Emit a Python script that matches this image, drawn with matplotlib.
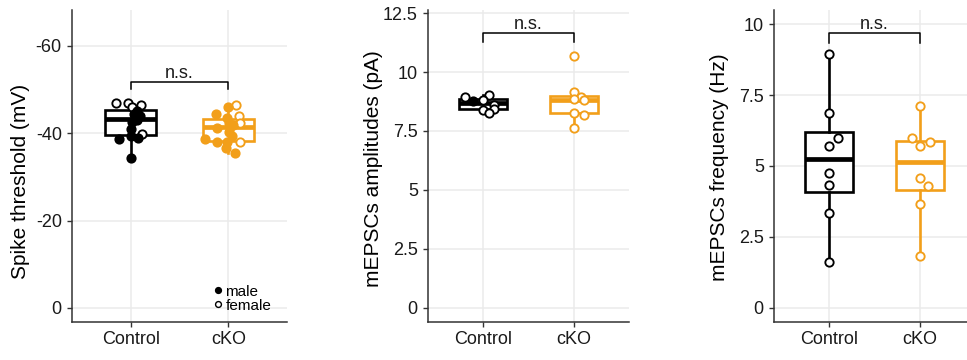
import matplotlib
matplotlib.use('Agg')
import matplotlib.pyplot as plt
from matplotlib.lines import Line2D

plt.rcParams['font.family'] = ['Liberation Sans', 'DejaVu Sans']
plt.rcParams['axes.unicode_minus'] = False

# ---------------- data ----------------
groups = ['Control', 'cKO']
group_colors = ['#000000', '#F29F1A']

# Panel 1: spike threshold (mV)
thr_ctrl = [-46.9, -46.9, -46.4, -46.0, -45.0, -44.5, -44.0, -43.5, -43.0, -42.5,
            -41.0, -39.8, -39.3, -38.9, -38.6, -34.4]
thr_ctrl_male = [0, 0, 0, 0, 1, 1, 1, 1, 1, 1, 1, 0, 1, 1, 1, 1]
thr_ctrl_jit = [-0.15, -0.03, 0.11, 0.01, 0.07, 0.03, 0.10, 0.04, 0.07, 0.01,
                0.0, 0.12, 0.0, 0.08, -0.12, 0.0]

thr_cko = [-46.5, -46.0, -44.4, -44.0, -43.5, -42.3, -42.3, -41.8, -41.5, -41.3,
           -40.2, -39.3, -38.7, -38.1, -37.9, -37.9, -36.6, -35.4]
thr_cko_male = [0, 1, 1, 0, 1, 1, 0, 1, 1, 1, 1, 1, 1, 0, 1, 1, 1, 1]
thr_cko_jit = [0.08, 0.0, -0.13, 0.11, -0.01, 0.01, 0.12, 0.05, 0.02, -0.12,
               0.01, 0.04, -0.24, 0.12, -0.12, -0.01, -0.02, 0.07]

# Panel 2: mEPSC amplitudes (pA)
amp_ctrl = [9.02, 8.93, 8.82, 8.78, 8.60, 8.45, 8.40, 8.28]
amp_ctrl_male = [0, 0, 0, 1, 0, 0, 0, 0]
amp_ctrl_jit = [0.07, -0.20, 0.0, -0.11, 0.12, 0.12, 0.0, 0.07]

amp_cko = [10.69, 9.14, 8.95, 8.85, 8.80, 8.28, 8.18, 7.61]
amp_cko_male = [0, 0, 0, 0, 0, 0, 0, 0]
amp_cko_jit = [0.0, 0.0, 0.08, 0.0, 0.11, 0.0, 0.11, 0.0]

# Panel 3: mEPSC frequency (Hz)
freq_ctrl = [8.94, 6.88, 5.97, 5.70, 4.76, 4.32, 3.33, 1.60]
freq_ctrl_male = [0, 0, 0, 0, 0, 0, 0, 0]
freq_ctrl_jit = [0.0, 0.0, 0.10, 0.0, 0.0, 0.0, 0.0, 0.0]

freq_cko = [7.11, 5.97, 5.86, 5.70, 4.57, 4.30, 3.66, 1.83]
freq_cko_male = [0, 0, 0, 0, 0, 0, 0, 0]
freq_cko_jit = [0.0, -0.09, 0.11, 0.0, 0.0, 0.09, 0.0, 0.0]

thr_ticks = [0, -20, -40, -60]
thr_ticklabels = ['0', '-20', '-40', '-60']
amp_ticks = [0, 2.5, 5, 7.5, 10, 12.5]
amp_ticklabels = ['0', '2.5', '5', '7.5', '10', '12.5']
freq_ticks = [0, 2.5, 5, 7.5, 10]
freq_ticklabels = ['0', '2.5', '5', '7.5', '10']

sig_label = 'n.s.'
legend_labels = ['male', 'female']

# ---------------- figure ----------------
W, H = 967, 360
fig = plt.figure(figsize=(W / 100, H / 100), dpi=100)

def frac_rect(l, r, t, b):
    return [l / W, (H - b) / H, (r - l) / W, (b - t) / H]

ax1 = fig.add_axes(frac_rect(72, 287, 10, 322))
ax2 = fig.add_axes(frac_rect(428, 629, 10, 322))
ax3 = fig.add_axes(frac_rect(774, 975, 10, 322))

AX_COL = '#333333'


def draw_panel(ax, sets, ylabel, ticks, ticklabels, ylim, bracket_y, bracket_drop,
               label_x, label_y):
    for i, (vals, male, jit) in enumerate(sets):
        c = group_colors[i]
        ax.boxplot(vals, positions=[i + 1], widths=0.52, showfliers=False,
                   showcaps=False, patch_artist=True, whis=1.5, manage_ticks=False,
                   boxprops=dict(facecolor='white', edgecolor=c, linewidth=1.9),
                   medianprops=dict(color=c, linewidth=3.4, solid_capstyle='butt'),
                   whiskerprops=dict(color=c, linewidth=1.9),
                   zorder=2)
        for v, m, j in zip(vals, male, jit):
            ax.scatter(i + 1 + j, v, s=36, facecolor=c if m else 'white',
                       edgecolor=c, linewidth=1.35, zorder=3)

    ax.set_xlim(0.4, 2.6)
    ax.set_ylim(*ylim)
    ax.set_axisbelow(True)
    ax.grid(True, color='#EBEBEB', linewidth=1.1)
    for s in ['top', 'right']:
        ax.spines[s].set_visible(False)
    for s in ['left', 'bottom']:
        ax.spines[s].set_color(AX_COL)
        ax.spines[s].set_linewidth(1.1)
    ax.tick_params(axis='both', colors=AX_COL, length=3.3, width=1.0,
                   labelsize=13, labelcolor='#1a1a1a')
    ax.tick_params(axis='y', pad=4)
    ax.tick_params(axis='x', pad=3)
    ax.set_yticks(ticks)
    ax.set_yticklabels(ticklabels)
    ax.set_xticks([1, 2])
    ax.set_xticklabels(groups)

    # significance bracket
    ax.plot([1, 1, 2, 2],
            [bracket_y - bracket_drop, bracket_y, bracket_y, bracket_y - bracket_drop],
            color='black', linewidth=1.1, zorder=4, clip_on=False)
    ax.annotate(sig_label, xy=(1.5, bracket_y), xytext=(0, 2.5),
                textcoords='offset points', ha='center', va='baseline',
                fontsize=13, color='#1a1a1a')

    ax.set_ylabel(ylabel, fontsize=15, color='black')
    ax.yaxis.set_label_coords(label_x, label_y)
    ax.set_xlabel('')


draw_panel(ax1,
           [(thr_ctrl, thr_ctrl_male, thr_ctrl_jit), (thr_cko, thr_cko_male, thr_cko_jit)],
           'Spike threshold (mV)', thr_ticks, thr_ticklabels, (3.25, -68.25),
           -51.8, -1.7, -0.195, 0.452)
draw_panel(ax2,
           [(amp_ctrl, amp_ctrl_male, amp_ctrl_jit), (amp_cko, amp_cko_male, amp_cko_jit)],
           'mEPSCs amplitudes (pA)', amp_ticks, amp_ticklabels, (-0.6, 12.63),
           11.66, 0.38, -0.224, 0.49)
draw_panel(ax3,
           [(freq_ctrl, freq_ctrl_male, freq_ctrl_jit), (freq_cko, freq_cko_male, freq_cko_jit)],
           'mEPSCs frequency (Hz)', freq_ticks, freq_ticklabels, (-0.5, 10.5),
           9.70, 0.35, -0.224, 0.495)

# legend (panel 1)
handles = [
    Line2D([], [], linestyle='none', marker='o', markersize=4.2,
           markerfacecolor='black', markeredgecolor='black', markeredgewidth=1.0),
    Line2D([], [], linestyle='none', marker='o', markersize=4.2,
           markerfacecolor='white', markeredgecolor='black', markeredgewidth=1.0),
]
ax1.legend(handles, legend_labels, loc='lower left', bbox_to_anchor=(0.66, 0.03),
           frameon=False, fontsize=11, handlelength=0.5, handletextpad=0.25,
           labelspacing=0.0, borderpad=0, borderaxespad=0)

fig.savefig('out.png', dpi=100)
